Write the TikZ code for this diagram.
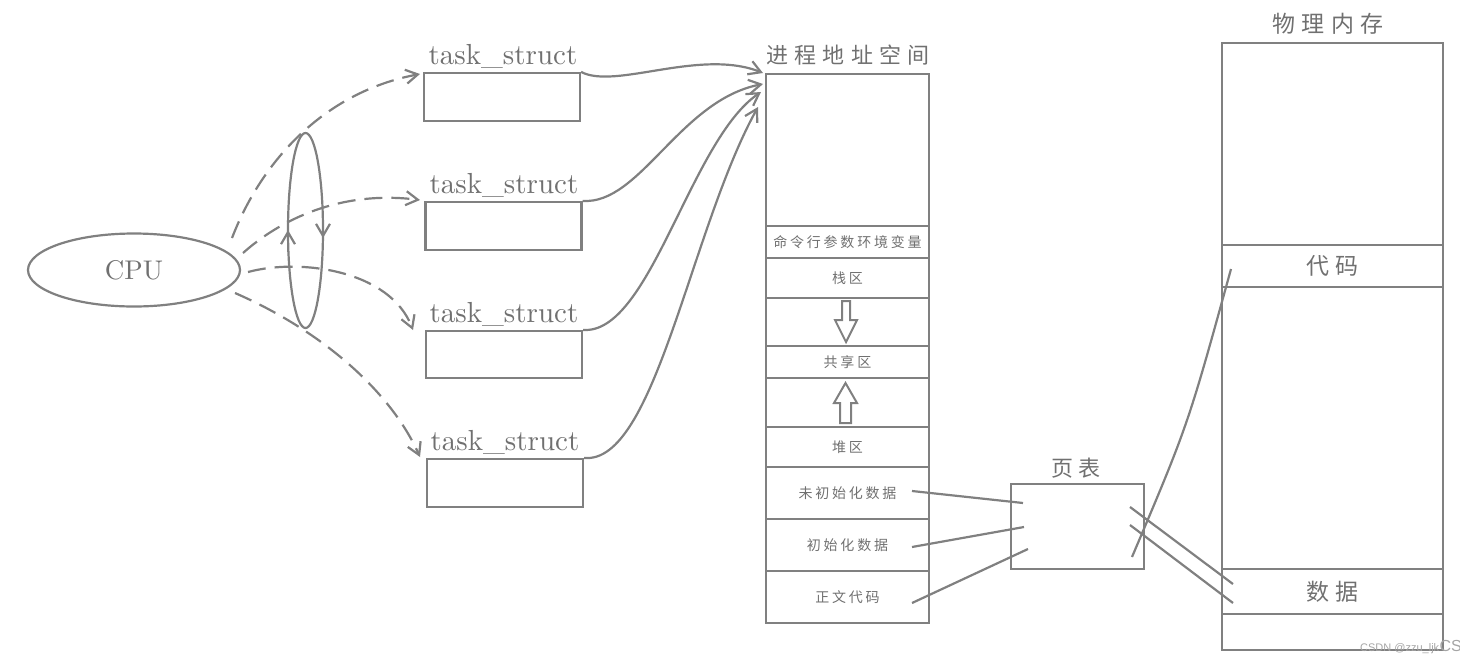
\documentclass[tikz,border=0pt]{standalone}
\usepackage{fontspec}
\newfontfamily\cjkA[LetterSpace=28]{Noto Sans CJK SC}
\newfontfamily\cjkB[LetterSpace=20]{Noto Sans CJK SC}
\newfontfamily\wmfont{Liberation Sans}
\newfontfamily\lat{lmroman10-regular}[Extension=.otf]
\usetikzlibrary{arrows.meta,shapes.geometric}
\definecolor{lc}{RGB}{128,128,128}
\definecolor{tc}{RGB}{112,112,112}
\definecolor{wc}{RGB}{165,165,165}
\begin{document}
\begin{tikzpicture}[x=1pt,y=-1pt,
  ln/.style={draw=lc,line width=2.2pt},
  arr/.style={-{Straight Barb[length=12pt,width=14pt]}},
  dsh/.style={dash pattern=on 18pt off 9pt},
  cell/.style={ln,rectangle,inner sep=0pt,minimum width=163pt,text=tc,font=\cjkB\fontsize{14}{14}\selectfont},
  pcell/.style={ln,rectangle,inner sep=0pt,minimum width=221pt,text=tc,font=\cjkA\fontsize{23}{23}\selectfont},
  tbox/.style={ln,rectangle,inner sep=0pt,minimum width=156pt,minimum height=48pt},
  tlbl/.style={anchor=base,text=tc,font=\lat\fontsize{29}{29}\selectfont,inner sep=0pt},
  title/.style={text=tc,font=\cjkA\fontsize{22}{22}\selectfont,inner sep=0pt}
]
\useasboundingbox (0,0) rectangle (1460,665);

% CPU and rotation ellipse
\node[ellipse,ln,inner sep=0pt,minimum width=212pt,minimum height=73pt,text=tc,font=\lat\fontsize{27}{27}\selectfont] (cpu) at (134,270) {CPU};
\node[ellipse,ln,inner sep=0pt,minimum width=35pt,minimum height=195pt] (rot) at (305.5,230.5) {};
\draw[ln,arr] (288,252) -- (288,230);
\draw[ln,arr] (323,216) -- (323,238);

% task_struct boxes
\node[tbox] (b1) at (502,97) {};
\node[tbox] (b2) at (503.5,226) {};
\node[tbox,minimum height=47pt] (b3) at (504,354.5) {};
\node[tbox] (b4) at (505,483) {};
\node[tlbl] (t1) at (503,64) {task\_struct};
\node[tlbl] (t2) at (504,193) {task\_struct};
\node[tlbl] (t3) at (504,322) {task\_struct};
\node[tlbl] (t4) at (505,450) {task\_struct};

% dashed arrows from CPU
\coordinate (c1) at (232,238);
\coordinate (c2) at (243,253);
\coordinate (c3) at (248,272);
\coordinate (c4) at (235,293);
\coordinate (e1) at (420,74);
\coordinate (e2) at (420,200);
\coordinate (e3) at (413,330);
\coordinate (e4) at (420,457);
\draw[ln,dsh,arr] (c1) .. controls (262,160) and (325,92) .. (e1);
\draw[ln,dsh,arr] (c2) .. controls (280,220) and (340,190) .. (e2);
\draw[ln,dsh,arr] (c3) .. controls (300,258) and (390,270) .. (e3);
\draw[ln,dsh,arr] (c4) .. controls (320,330) and (390,390) .. (e4);

% address space
\node[title] (ast) at (848,55) {进程地址空间};
\node[cell,minimum height=152pt] (r1) at (847.5,150) {};
\node[cell,minimum height=32pt] (r2) at (847.5,242) {命令行参数环境变量};
\node[cell,minimum height=40pt] (r3) at (847.5,278) {栈区};
\node[cell,minimum height=48pt] (r4) at (847.5,322) {};
\node[cell,minimum height=32pt] (r5) at (847.5,362) {共享区};
\node[cell,minimum height=49pt] (r6) at (847.5,402.5) {};
\node[cell,minimum height=40pt] (r7) at (847.5,447) {堆区};
\node[cell,minimum height=52pt] (r8) at (847.5,493) {未初始化数据};
\node[cell,minimum height=52pt] (r9) at (847.5,545) {初始化数据};
\node[cell,minimum height=52pt] (r10) at (847.5,597) {正文代码};

% hollow arrows
\draw[ln,line width=2pt,line join=miter] (842,301) -- (850,301) -- (850,320) -- (857,320) -- (846,342) -- (835,320) -- (842,320) -- cycle;
\draw[ln,line width=2pt,line join=miter] (840,423) -- (851,423) -- (851,403) -- (857,403) -- (845.5,383) -- (834,403) -- (840,403) -- cycle;

% curves from task_structs to address space
\coordinate (a1) at (763,73);
\coordinate (a2) at (763,84);
\coordinate (a3) at (761,92);
\coordinate (a4) at (758,107);
\draw[ln,arr] (b1.north east) .. controls (615,90) and (700,48) .. (a1);
\draw[ln,arr] (b2.north east) .. controls (640,205) and (680,100) .. (a2);
\draw[ln,arr] (b3.north east) .. controls (650,335) and (690,140) .. (a3);
\draw[ln,arr] (b4.north east) .. controls (655,465) and (690,230) .. (a4);

% page table
\node[ln,rectangle,inner sep=0pt,minimum width=133pt,minimum height=85pt] (pt) at (1077.5,526.5) {};
\node[title,font=\cjkB\fontsize{22}{22}\selectfont] (ptl) at (1076,468) {页表};
\coordinate (s8) at (912,491);
\coordinate (s9) at (912,547);
\coordinate (s10) at (912,603);
\coordinate (p8) at (1023,503);
\coordinate (p9) at (1024,527);
\coordinate (p10) at (1028,549);
\draw[ln] (s8) -- (p8);
\draw[ln] (s9) -- (p9);
\draw[ln] (s10) -- (p10);

% physical memory
\node[title,font=\cjkA\fontsize{23}{23}\selectfont] (pmt) at (1328,24) {物理内存};
\node[pcell,minimum height=202pt] (m1) at (1332.5,144) {};
\node[pcell,minimum height=42pt] (m2) at (1332.5,266) {代码};
\node[pcell,minimum height=282pt] (m3) at (1332.5,428) {};
\node[pcell,minimum height=45pt] (m4) at (1332.5,591.5) {数据};
\node[pcell,minimum height=36pt] (m5) at (1332.5,632) {};

\coordinate (qa) at (1132,557);
\coordinate (qb) at (1130,507);
\coordinate (qc) at (1130,525);
\coordinate (ma) at (1231,269);
\coordinate (mb) at (1233,584);
\coordinate (mc) at (1233,603);
\draw[ln] (qa) .. controls (1188,425) .. (ma);
\draw[ln] (qb) -- (mb);
\draw[ln] (qc) -- (mc);

% watermark
\node[anchor=base west,inner sep=0pt,text=wc,font=\wmfont\fontsize{11}{11}\selectfont] (wm) at (1360,651) {CSDN @zzu\_ljk};
\node[anchor=base west,inner sep=0pt,text=wc,font=\wmfont\fontsize{16}{16}\selectfont] (wm2) at (wm.base east) {CS};
\end{tikzpicture}
\end{document}
